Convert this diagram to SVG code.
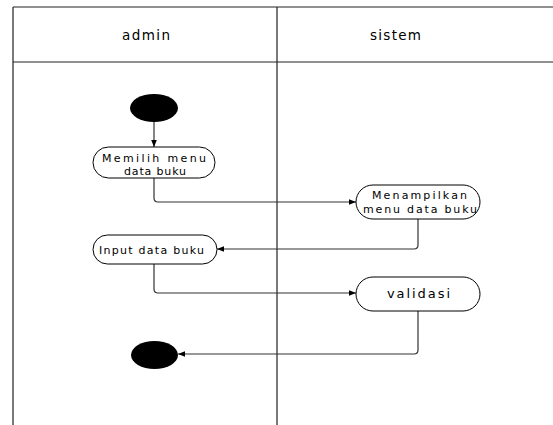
<svg xmlns="http://www.w3.org/2000/svg" width="553" height="425" viewBox="0 0 553 425">
  <style>
    .lane { fill: none; stroke: #222; stroke-width: 1.2; }
    .hdr { font-family: "DejaVu Sans", "Open Sans", sans-serif; font-size: 13.5px; fill: #000; text-anchor: middle; dominant-baseline: central; }
    .act rect { fill: #fff; stroke: #000; stroke-width: 1; }
    .act text { font-family: "DejaVu Sans", "Open Sans", sans-serif; font-size: 11px; fill: #000; text-anchor: middle; dominant-baseline: central; }
    .dot { fill: #000; }
    .flow { fill: none; stroke: #333; stroke-width: 1.2; marker-end: url(#arr); }
  </style>
  <defs>
    <marker id="arr" viewBox="0 0 10 10" refX="10" refY="5" markerWidth="7" markerHeight="7" markerUnits="userSpaceOnUse" orient="auto">
      <path d="M0,1 L10,5 L0,9 z" fill="#000"/>
    </marker>
  </defs>
  <rect width="553" height="425" fill="#fff"/>

  <!-- swimlanes -->
  <g id="lanes">
    <path class="lane" d="M13,7 H553 M13,62 H553 M13,7 V425 M277,7 V425"/>
    <text class="hdr" x="146" y="35" textLength="48" lengthAdjust="spacing">admin</text>
    <text class="hdr" x="395.5" y="35" textLength="51" lengthAdjust="spacing">sistem</text>
  </g>

  <!-- connectors -->
  <g id="connectors">
    <path class="flow" d="M154,122 V147"/>
    <path class="flow" d="M154,178 V198 Q154,202 158,202 H356"/>
    <path class="flow" d="M418,219 V245 Q418,249 414,249 H217"/>
    <path class="flow" d="M154,264 V289 Q154,293 158,293 H356"/>
    <path class="flow" d="M418,311 V350 Q418,354 414,354 H178"/>
  </g>

  <g id="start"><ellipse class="dot" cx="154" cy="108" rx="24" ry="14"/></g>

  <g id="memilih" class="act">
    <rect x="93" y="147" width="122" height="31" rx="15.5"/>
    <text x="154" y="158.5" textLength="104" lengthAdjust="spacing">Memilih menu</text>
    <text x="155" y="171" textLength="62" lengthAdjust="spacing">data buku</text>
  </g>

  <g id="menampilkan" class="act">
    <rect x="356" y="185" width="124" height="34" rx="17"/>
    <text x="419.5" y="195.5" textLength="95" lengthAdjust="spacing">Menampilkan</text>
    <text x="420" y="209" textLength="114" lengthAdjust="spacing">menu data buku</text>
  </g>

  <g id="input" class="act">
    <rect x="93" y="235" width="124" height="29" rx="14.5"/>
    <text x="151.5" y="250" textLength="105" lengthAdjust="spacing">Input data buku</text>
  </g>

  <g id="validasi" class="act">
    <rect x="356" y="277" width="124" height="34" rx="17"/>
    <text x="418.5" y="293" style="font-size:13px" textLength="63" lengthAdjust="spacing">validasi</text>
  </g>

  <g id="end"><ellipse class="dot" cx="154.5" cy="355" rx="23.5" ry="14"/></g>
</svg>
